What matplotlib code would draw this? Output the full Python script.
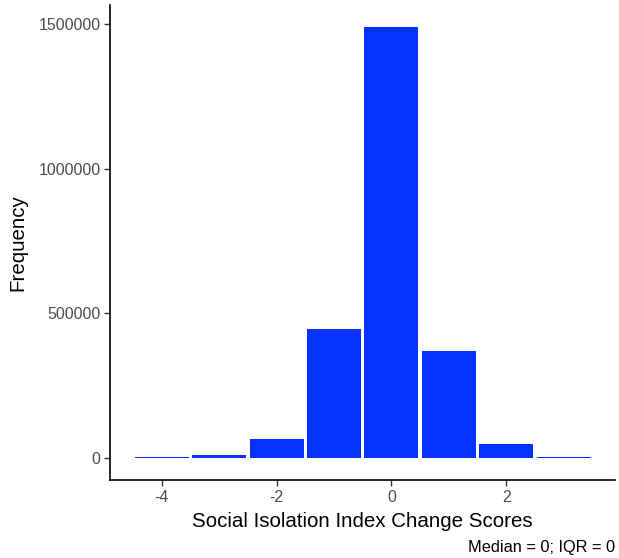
import matplotlib
matplotlib.use('Agg')
import matplotlib.pyplot as plt

# change score bins and counts
scores = [-4, -3, -2, -1, 0, 1, 2, 3]
counts = [6000, 10000, 68000, 447000, 1487000, 369000, 51000, 6000]
x_ticks = [-4, -2, 0, 2]
y_ticks = [0, 500000, 1000000, 1500000]
caption = 'Median = 0; IQR = 0'

plt.rcParams['font.family'] = ['Liberation Sans', 'DejaVu Sans']

fig = plt.figure(figsize=(6.19, 5.58), dpi=100)
ax = fig.add_axes([0.178, 0.14, 0.816, 0.851])

# narrow bars leave a white gap between neighbours
ax.bar(scores, counts, width=0.94, color='#0433FF', linewidth=0)

ax.set_xlim(-4.9, 3.9)
ax.set_ylim(-74500, 1564500)
ax.set_xticks(x_ticks)
ax.set_xticklabels([str(t) for t in x_ticks])
ax.set_yticks(y_ticks)
ax.set_yticklabels([str(t) for t in y_ticks])

for side in ['top', 'right']:
    ax.spines[side].set_visible(False)
for side in ['left', 'bottom']:
    ax.spines[side].set_linewidth(1.2)
    ax.spines[side].set_color('black')

ax.tick_params(axis='both', length=4, width=1.0, color='#333333',
               labelsize=11.5, labelcolor='#4D4D4D', pad=3)

ax.set_xlabel('Social Isolation Index Change Scores', fontsize=14.8, labelpad=5)
ax.set_ylabel('Frequency', fontsize=14.8, labelpad=8)

fig.text(0.994, 0.005, caption, ha='right', va='bottom', fontsize=11.8)

plt.savefig('out.png', dpi=100)
plt.close()
